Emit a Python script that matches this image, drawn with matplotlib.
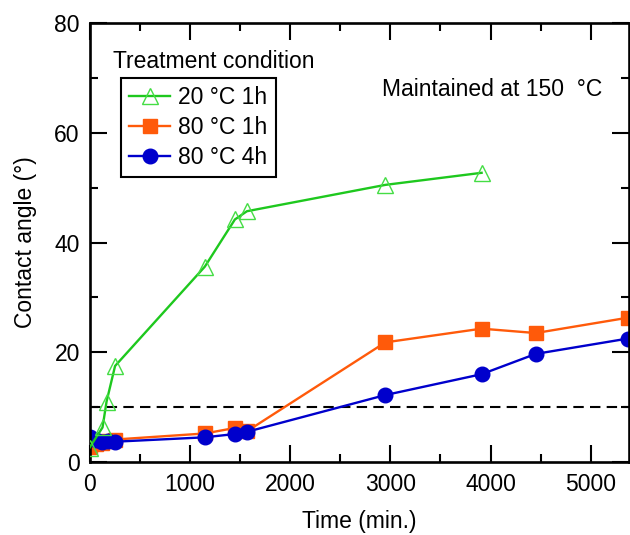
import matplotlib
matplotlib.use("Agg")
import matplotlib.pyplot as plt
from matplotlib.ticker import MultipleLocator

# contact angle vs. time, samples kept at 150 C after treatment
t_20c_1h = [0, 130, 170, 255, 1150, 1450, 1570, 2950, 3910]
ca_20c_1h = [2.6, 6.3, 11.0, 17.5, 35.6, 44.2, 45.7, 50.5, 52.7]

t_80c_1h = [0, 60, 120, 180, 255, 1150, 1450, 1570, 2950, 3910, 4450, 5370]
ca_80c_1h = [2.8, 3.2, 3.5, 3.8, 4.1, 5.2, 6.2, 5.6, 21.8, 24.3, 23.5, 26.3]

t_80c_4h = [0, 60, 120, 180, 255, 1150, 1450, 1570, 2950, 3910, 4450, 5370]
ca_80c_4h = [4.6, 4.1, 3.6, 3.9, 3.7, 4.5, 5.1, 5.5, 12.2, 16.0, 19.7, 22.5]

threshold = 10
labels = ["20 \u00b0C 1h", "80 \u00b0C 1h", "80 \u00b0C 4h"]

plt.rcParams["font.family"] = ["Liberation Sans", "DejaVu Sans"]
plt.rcParams["font.size"] = 16.5

W, H = 630, 535
fig = plt.figure(figsize=(W / 100, H / 100), dpi=100)
x0, x1, y0, y1 = 89.5, 629, 23, 462
ax = fig.add_axes([x0 / W, 1 - y1 / H, (x1 - x0) / W, (y1 - y0) / H])

green = "#1ec81e"
orange = "#ff5a0a"
blue = "#0000cc"

ax.axhline(threshold, color="black", lw=1.5, ls=(0, (5, 3)), zorder=1)
ax.plot(t_20c_1h, ca_20c_1h, color=green, lw=1.7, marker="^", ms=12,
        mfc="none", mec="#44dd44", mew=1.0, label=labels[0], zorder=3)
ax.plot(t_80c_1h, ca_80c_1h, color=orange, lw=1.7, marker="s", ms=10,
        mfc=orange, mec=orange, label=labels[1], zorder=2)
ax.plot(t_80c_4h, ca_80c_4h, color=blue, lw=1.7, marker="o", ms=10.5,
        mfc=blue, mec=blue, label=labels[2], zorder=2)

ax.set_xlim(0, 5380)
ax.set_ylim(0, 80)
ax.xaxis.set_major_locator(MultipleLocator(1000))
ax.xaxis.set_minor_locator(MultipleLocator(500))
ax.yaxis.set_major_locator(MultipleLocator(20))
ax.yaxis.set_minor_locator(MultipleLocator(10))
ax.tick_params(which="both", direction="in", top=True, right=True, width=1.5)
ax.tick_params(which="major", length=12, labelsize=16.5)
ax.tick_params(axis="y", which="major", pad=7)
ax.tick_params(axis="x", which="major", pad=8)
ax.tick_params(which="minor", length=6)
for s in ax.spines.values():
    s.set_linewidth(1.9)

ax.set_xlabel("Time (min.)", fontsize=16.5)
ax.set_ylabel("Contact angle (\u00b0)", fontsize=16.5)
ax.xaxis.set_label_coords(0.5, -0.11)
ax.yaxis.set_label_coords(-0.098, 0.5)

leg = ax.legend(loc="upper left", bbox_to_anchor=(120.7 / W, 1 - 78 / H),
                bbox_transform=fig.transFigure, borderaxespad=0,
                fancybox=False, edgecolor="black", framealpha=1,
                handlelength=1.8, handletextpad=0.35, labelspacing=0.3,
                borderpad=0.36, fontsize=16.5)
leg.get_frame().set_linewidth(1.5)

fig.text(113 / W, 1 - 61.7 / H, "Treatment condition", ha="left", va="center", fontsize=16.5)
fig.text(381.7 / W, 1 - 90 / H, "Maintained at 150  \u00b0C", ha="left", va="center", fontsize=16.5)

fig.savefig("out.png", dpi=100)
